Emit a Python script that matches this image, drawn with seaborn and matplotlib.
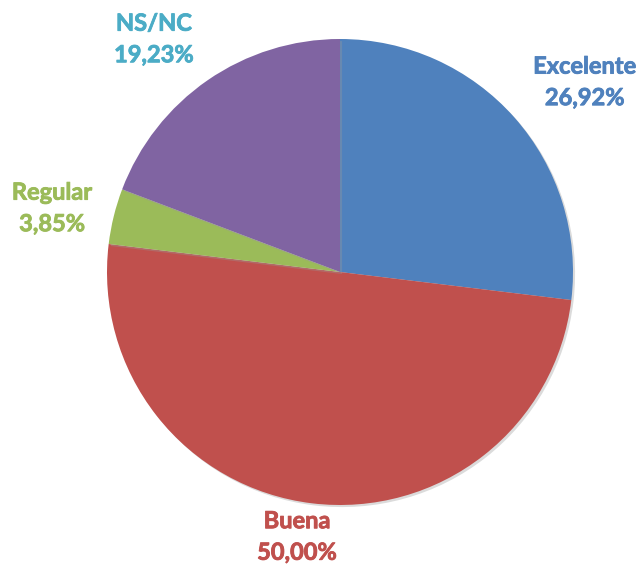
# pie chart: valoracion (excelente / buena / regular / ns-nc)

import numpy as np
import matplotlib
matplotlib.use("Agg")
import matplotlib.pyplot as plt
import matplotlib.patheffects as pe
import seaborn as sns

categories = ["Excelente", "Buena", "Regular", "NS/NC"]
values = [26.92, 50.00, 3.85, 19.23]
pct_labels = ["26,92%", "50,00%", "3,85%", "19,23%"]

slice_colors = ["#4F81BD", "#C0504D", "#9BBB59", "#8064A2"]
label_colors = ["#4F81BD", "#C0504D", "#9BBB59", "#4BACC6"]
# label distance (in radii) and angle nudge (deg) from the slice mid angle
label_dist = [1.33, 1.15, 1.266, 1.28]
label_nudge = [-3.7, -2.3, 1.3, 4.0]


def main():
    sns.set_theme(style="white")
    plt.rcParams["font.family"] = ["Lato", "DejaVu Sans"]

    fig = plt.figure(figsize=(6.43, 5.65), dpi=100)
    ax = fig.add_axes([0, 0, 1, 1])

    wedges, _ = ax.pie(
        values,
        colors=slice_colors,
        startangle=90,
        counterclock=False,
        radius=1.0,
        wedgeprops=dict(linewidth=0),
    )
    # soft shadow around the pie
    for w in wedges:
        w.set_path_effects([
            pe.SimplePatchShadow(offset=(1.5, -1.5), shadow_rgbFace="#999999", alpha=0.35),
            pe.Normal(),
        ])

    # labels placed along each slice's mid angle
    for w, cat, pct, col, d, nd in zip(wedges, categories, pct_labels,
                                        label_colors, label_dist, label_nudge):
        mid = np.deg2rad((w.theta1 + w.theta2) / 2 + nd)
        x, y = d * np.cos(mid), d * np.sin(mid)
        ax.text(x, y, f"{cat}\n{pct}", ha="center", va="center",
                color=col, fontsize=17, fontweight="bold", linespacing=1.45,
                path_effects=[pe.withStroke(linewidth=0.6, foreground=col)])

    ax.set_xlim(-340 / 233, 303 / 233)
    ax.set_ylim(-293 / 233, 272 / 233)
    ax.set_aspect("equal")
    ax.axis("off")

    fig.savefig("out.png", dpi=100, facecolor="white")


if __name__ == "__main__":
    main()
